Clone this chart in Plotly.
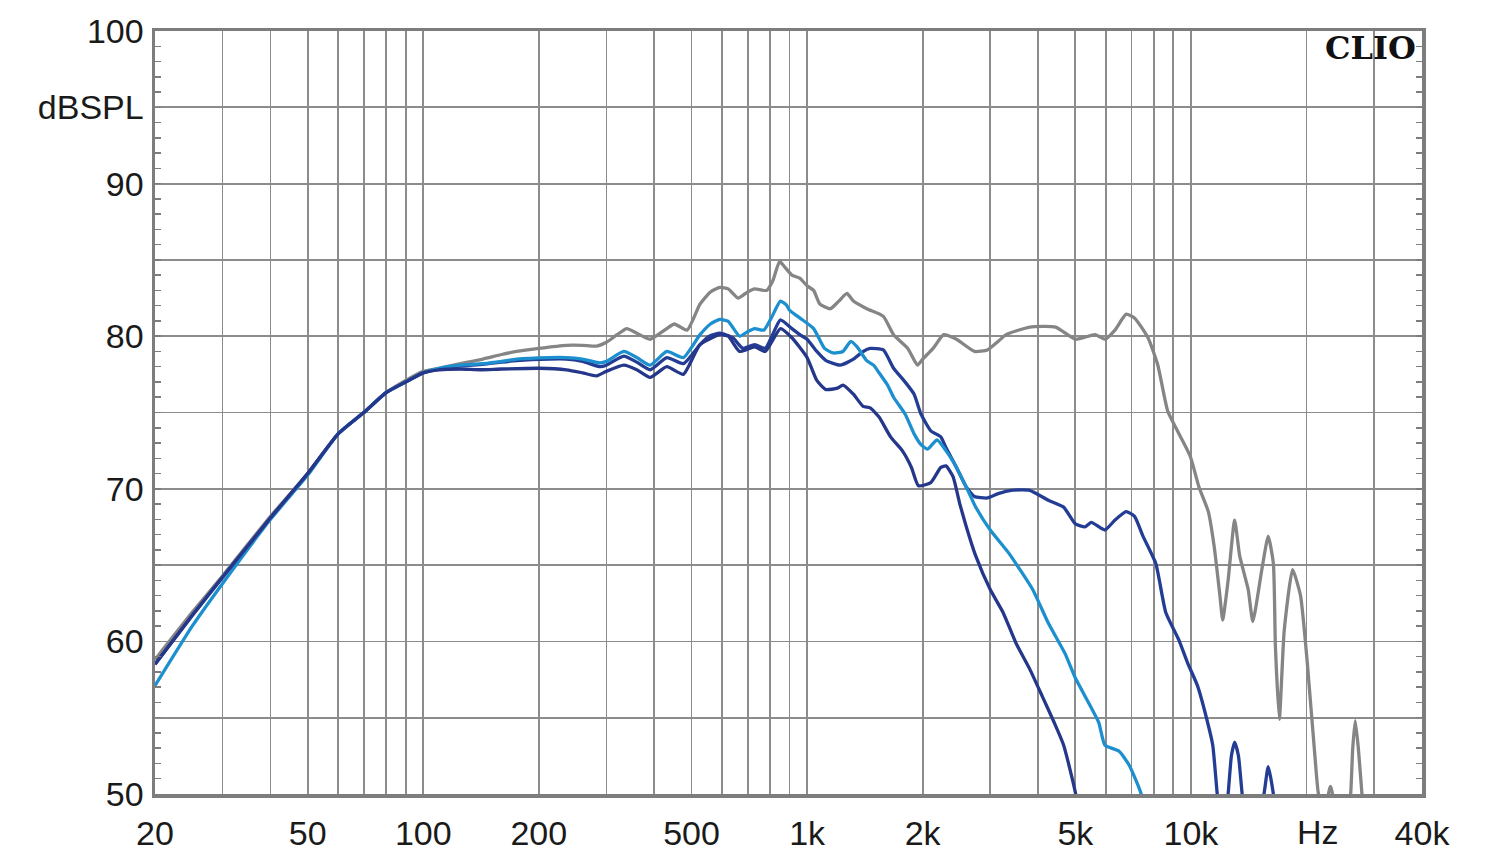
import math
import plotly.graph_objects as go

# ---------------- data ----------------
gray_f = [20, 25, 30, 40, 50, 60, 70, 80, 90, 100, 110, 125, 143, 160, 175, 200, 236, 260, 283, 300,
          320, 339, 360, 390, 431, 451, 487, 526, 560, 593, 623, 661, 700, 730, 784, 813, 848, 870,
          913, 957, 1000, 1040, 1080, 1150, 1210, 1270, 1320, 1430, 1580, 1680, 1830, 1940, 2000,
          2130, 2270, 2450, 2730, 2950, 3160, 3300, 3800, 4440, 5000, 5630, 5970, 6340, 6780, 7130,
          7730, 8200, 8700, 9400, 9970, 10500, 11100, 11500, 11900, 12100, 12500, 13000, 13400,
          14100, 14500, 15300, 15900, 16400, 16600, 17000, 17500, 18400, 19300, 20100, 21100,
          21500, 22300, 23100, 23800, 25000, 26000, 26400, 26800, 27300, 27900, 28500, 40000]
gray_db = [58.8, 61.9, 64.3, 68.2, 71.0, 73.6, 75.0, 76.3, 77.1, 77.7, 77.9, 78.2, 78.5, 78.8, 79.0,
           79.2, 79.4, 79.4, 79.35, 79.6, 80.1, 80.5, 80.2, 79.8, 80.5, 80.8, 80.4, 82.1, 82.9, 83.2,
           83.1, 82.5, 82.9, 83.1, 83.0, 83.6, 84.9, 84.6, 84.0, 83.8, 83.3, 83.0, 82.1, 81.8, 82.3,
           82.8, 82.3, 81.8, 81.3, 80.1, 79.2, 78.1, 78.5, 79.2, 80.1, 79.8, 79.0, 79.1, 79.7, 80.1,
           80.6, 80.6, 79.8, 80.1, 79.8, 80.4, 81.45, 81.2, 79.9, 78.1, 75.1, 73.4, 72.1, 70.1, 68.5,
           66.2, 63.0, 61.4, 64.0, 67.95, 65.6, 63.4, 61.3, 64.7, 66.9, 65.1, 59.7, 54.9, 60.7, 64.7,
           63.0, 58.6, 52.1, 50.0, 49.0, 50.5, 49.0, 47.0, 49.5, 53.0, 54.8, 53.0, 50.0, 47.0, 45.0]

lblue_f = [20, 25, 30, 40, 50, 60, 70, 80, 90, 100, 110, 125, 143, 160, 175, 213, 236, 260, 289, 300,
           333, 360, 390, 431, 476, 526, 560, 593, 623, 667, 700, 730, 772, 807, 852, 883, 900, 957,
           1040, 1110, 1170, 1240, 1300, 1350, 1430, 1490, 1540, 1620, 1680, 1800, 1900, 1980, 2060,
           2180, 2300, 2450, 2600, 2750, 3000, 3350, 3870, 4250, 4700, 5000, 5750, 5970, 6500, 6900,
           7400, 8000]
lblue_db = [57.1, 61.0, 63.8, 68.0, 70.9, 73.6, 75.0, 76.3, 77.0, 77.6, 77.9, 78.1, 78.2, 78.35, 78.5,
            78.6, 78.6, 78.5, 78.25, 78.35, 79.0, 78.6, 78.1, 79.0, 78.6, 80.1, 80.8, 81.1, 80.97, 80.0,
            80.3, 80.5, 80.4, 81.2, 82.3, 82.05, 81.7, 81.2, 80.5, 79.2, 78.9, 79.0, 79.66, 79.3, 78.4,
            78.1, 77.6, 76.8, 76.0, 74.9, 73.6, 72.9, 72.6, 73.2, 72.5, 71.4, 70.1, 68.8, 67.3, 65.8,
            63.4, 61.2, 59.2, 57.6, 54.7, 53.2, 52.8, 51.9, 50.1, 46.0]

dblue_a_f = [20, 25, 30, 40, 50, 60, 70, 80, 90, 100, 110, 125, 143, 160, 175, 213, 236, 260, 289, 300,
             333, 360, 390, 431, 476, 526, 556, 593, 640, 680, 730, 778, 813, 852, 913, 957, 1000, 1060,
             1120, 1220, 1320, 1400, 1460, 1580, 1680, 1800, 1900, 1980, 2100, 2230, 2300, 2450, 2600,
             2730, 2950, 3160, 3400, 3800, 4250, 4660, 5000, 5300, 5500, 5970, 6340, 6780, 7130, 7500,
             8100, 8600, 9300, 9800, 10400, 11000, 11400, 11700, 12100, 12500, 12750, 13000, 13300,
             13600, 14300, 15500, 15900, 16400, 17000]
dblue_a_db = [58.5, 61.7, 64.2, 68.1, 71.0, 73.6, 75.0, 76.3, 77.0, 77.6, 77.85, 78.05, 78.15, 78.3,
              78.4, 78.5, 78.5, 78.35, 78.0, 78.1, 78.7, 78.3, 77.8, 78.6, 78.2, 79.45, 80.0, 80.2, 79.9,
              79.2, 79.45, 79.2, 80.1, 81.07, 80.5, 80.1, 79.8, 79.0, 78.4, 78.1, 78.5, 79.0, 79.2, 79.1,
              77.9, 77.0, 76.2, 74.9, 73.8, 73.4, 72.7, 71.4, 70.1, 69.5, 69.4, 69.7, 69.9, 69.9, 69.25,
              68.8, 67.7, 67.5, 67.8, 67.3, 67.95, 68.5, 68.2, 66.9, 65.1, 61.9, 60.1, 58.6, 57.1, 54.9,
              53.2, 50.1, 47.0, 50.0, 52.5, 53.4, 52.5, 50.0, 46.0, 50.0, 51.8, 50.0, 46.0]

dblue_b_f = [20, 25, 30, 40, 50, 60, 70, 80, 90, 100, 110, 125, 141, 160, 200, 236, 260, 283, 300, 333,
             360, 390, 431, 476, 526, 593, 623, 667, 730, 778, 852, 913, 1000, 1060, 1120, 1200, 1240,
             1320, 1400, 1460, 1540, 1650, 1770, 1870, 1950, 2100, 2230, 2300, 2400, 2500, 2600, 2750,
             3000, 3240, 3500, 3800, 4100, 4400, 4660, 5000, 5300]
dblue_b_db = [58.5, 61.7, 64.2, 68.1, 71.0, 73.6, 75.0, 76.3, 77.0, 77.6, 77.8, 77.85, 77.8, 77.85, 77.9,
              77.8, 77.6, 77.4, 77.7, 78.1, 77.8, 77.3, 78.0, 77.5, 79.45, 80.1, 80.0, 79.0, 79.3, 79.0,
              80.5, 79.9, 78.6, 77.1, 76.5, 76.6, 76.8, 76.2, 75.4, 75.3, 74.7, 73.4, 72.5, 71.4, 70.2,
              70.4, 71.4, 71.5, 70.8, 69.0, 67.5, 65.6, 63.4, 61.9, 59.9, 58.2, 56.4, 54.7, 53.2, 50.1,
              46.0]

x_tickvals = [20, 30, 40, 50, 60, 70, 80, 90, 100, 200, 300, 400, 500, 600, 700, 800, 900,
              1000, 2000, 3000, 4000, 5000, 6000, 7000, 8000, 9000, 10000, 20000, 30000, 40000]
x_ticktext = ["20", "", "", "50", "", "", "", "", "100", "200", "", "", "500", "", "", "", "",
              "1k", "2k", "", "", "5k", "", "", "", "", "10k", "", "", "40k"]
x_unit_label = "Hz"
x_unit_pos = 21400

y_tickvals = [100, 95, 90, 85, 80, 75, 70, 65, 60, 55, 50]
y_ticktext = ["100", "dBSPL", "90", "", "80", "", "70", "", "60", "", "50"]

# ---------------- figure ----------------
GRID = "#8c8c8c"
FRAME = "#7d7d7d"
FONT = dict(family="Liberation Sans, Arial, sans-serif", size=34, color="#1a1a1a")

fig = go.Figure()
series = [
    (gray_f, gray_db, "#858585"),
    (dblue_a_f, dblue_a_db, "#233d94"),
    (lblue_f, lblue_db, "#1c8fcf"),
    (dblue_b_f, dblue_b_db, "#25378a"),
]
for f, db, col in series:
    fig.add_trace(go.Scatter(x=f, y=db, mode="lines",
                             line=dict(color=col, width=3.3, shape="spline", smoothing=0.5),
                             hoverinfo="skip", showlegend=False))

fig.update_layout(
    width=1500, height=864,
    paper_bgcolor="white", plot_bgcolor="white",
    margin=dict(l=155, r=78, t=31, b=65, pad=0),
    font=FONT,
    showlegend=False,
)
fig.update_xaxes(
    type="log", range=[math.log10(20), math.log10(40000)],
    tickmode="array", tickvals=x_tickvals, ticktext=x_ticktext,
    showgrid=True, gridcolor=GRID, gridwidth=1.8,
    showline=True, linecolor=FRAME, linewidth=3.5, mirror=True,
    ticks="", ticklabelstandoff=7, tickfont=FONT, zeroline=False,
)
fig.update_yaxes(
    range=[50, 100],
    tickmode="array", tickvals=y_tickvals, ticktext=y_ticktext,
    showgrid=True, gridcolor=GRID, gridwidth=1.8,
    showline=True, linecolor=FRAME, linewidth=3.5, mirror="ticks",
    ticks="inside", ticklen=6, tickcolor=FRAME, tickwidth=1.5,
    minor=dict(dtick=1, ticks="inside", ticklen=6, tickcolor=FRAME, tickwidth=1.5, showgrid=False),
    ticklabelstandoff=1, tickfont=FONT, zeroline=False,
)

fig.add_annotation(x=math.log10(x_unit_pos), y=0, xref="x", yref="paper",
                   text=x_unit_label, showarrow=False, yanchor="top", yshift=-17,
                   font=FONT)
fig.add_annotation(x=1, y=1, xref="paper", yref="paper", xanchor="right", yanchor="top",
                   xshift=-4, yshift=4, text="<b>CLIO</b>", showarrow=False,
                   font=dict(family="DejaVu Serif, serif", size=32, color="#111111"))

fig.write_html("out.html",
               config={"displayModeBar": False, "staticPlot": True},
               post_script=("document.documentElement.style.margin='0';"
                            "document.documentElement.style.overflow='hidden';"
                            "document.body.style.margin='0';"
                            "document.body.style.overflow='hidden';"))
